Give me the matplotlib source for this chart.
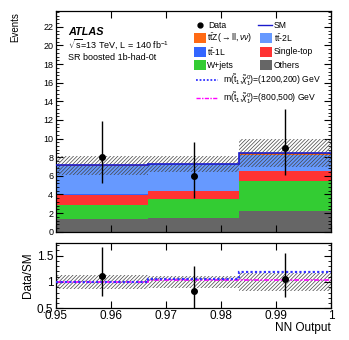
import numpy as np
import matplotlib
matplotlib.use("Agg")
import matplotlib.pyplot as plt
from matplotlib.patches import Rectangle
from matplotlib.lines import Line2D

plt.rcParams['font.family'] = ['Liberation Sans', 'DejaVu Sans']
plt.rcParams['mathtext.fontset'] = 'custom'
plt.rcParams['mathtext.rm'] = 'Liberation Sans'
plt.rcParams['mathtext.it'] = 'Liberation Sans:italic'
plt.rcParams['mathtext.bf'] = 'Liberation Sans:bold'
plt.rcParams['hatch.linewidth'] = 0.5

# ---------------- data ----------------
bin_edges = [0.95, 0.95 + 1/60, 0.95 + 2/60, 1.0]
others = [1.40, 1.48, 2.25]
wjets = [1.47, 2.00, 3.20]
single_top = [1.03, 0.85, 1.05]
tt_1l = [0.10, 0.05, 0.00]
tt_2l = [3.09, 2.90, 1.72]
ttz = [0.05, 0.02, 0.23]
sm_unc = [1.00, 0.88, 1.50]
data = [8, 6, 9]
data_err_lo = [2.77, 2.38, 2.94]
data_err_hi = [3.94, 3.58, 4.13]
sig_1200_200_ratio = [1.00, 1.05, 1.18]
sig_800_500_ratio = [1.00, 1.035, 1.03]
xtick_vals = [0.95, 0.96, 0.97, 0.98, 0.99, 1.0]
xtick_labels = ['0.95', '0.96', '0.97', '0.98', '0.99', '1']
ytick_main = [0, 2, 4, 6, 8, 10, 12, 14, 16, 18, 20, 22]
ytick_ratio = [0.5, 1.0, 1.5]
ytick_ratio_labels = ['0.5', '1', '1.5']

bkg_names = ['Others', 'W+jets', 'Single-top', r'$\mathrm{t\bar{t}}$-1L',
             r'$\mathrm{t\bar{t}}$-2L', r'$\mathrm{t\bar{t}Z}(\rightarrow \mathrm{ll},\nu\nu)$']
bkg_vals = [others, wjets, single_top, tt_1l, tt_2l, ttz]
bkg_colors = ['#666666', '#33cc33', '#ff3333', '#3366ff', '#6699ff', '#ff6a14']

# ---------------- figure ----------------
W, H = 349, 340
fig = plt.figure(figsize=(W/100, H/100), dpi=100)

def px(x0, y0, x1, y1):
    return [x0/W, 1 - y1/H, (x1-x0)/W, (y1-y0)/H]

ax = fig.add_axes(px(56, 11, 331, 231.7))
axr = fig.add_axes(px(56, 243, 331, 308.3))

edges = np.array(bin_edges)
centers = 0.5*(edges[:-1] + edges[1:])
widths = np.diff(edges)

bottom = np.zeros(3)
for vals, col in zip(bkg_vals, bkg_colors):
    v = np.array(vals)
    ax.bar(edges[:-1], v, width=widths, bottom=bottom, align='edge',
           color=col, linewidth=0, zorder=1)
    bottom = bottom + v
sm = bottom

unc = np.array(sm_unc)
ax.bar(edges[:-1], 2*unc, width=widths, bottom=sm-unc, align='edge',
       facecolor='none', edgecolor='#444444', hatch='/////////', linewidth=0, zorder=2)
ax.stairs(sm, edges, baseline=None, color='#1a1acc', linewidth=1.2, zorder=3)

ax.errorbar(centers, data, yerr=[data_err_lo, data_err_hi], fmt='o', color='black',
            markersize=4, elinewidth=1.0, capsize=0, zorder=5)

ax.set_xlim(0.95, 1.0)
ax.set_ylim(0, 23.7)
ax.set_yticks(ytick_main)
ax.set_yticks(np.arange(0, 23.7, 0.4), minor=True)
ax.set_xticks(xtick_vals)
ax.set_xticklabels([])
ax.tick_params(axis='both', which='both', direction='in', top=True, right=True)
ax.tick_params(axis='y', which='major', length=5, width=0.8, labelsize=6.5, pad=2)
ax.tick_params(axis='y', which='minor', length=2.5, width=0.6)
ax.tick_params(axis='x', which='major', length=5, width=0.8)

# ratio
ratio = np.array(data)/sm
r_lo = np.array(data_err_lo)/sm
r_hi = np.array(data_err_hi)/sm
rel = unc/sm
axr.bar(edges[:-1], 2*rel, width=widths, bottom=1-rel, align='edge',
        facecolor='none', edgecolor='#444444', hatch='/////////', linewidth=0, zorder=1)
axr.stairs(sig_1200_200_ratio, edges, baseline=None, color='#3333ff', linestyle=(0, (1, 1)),
           linewidth=1.6, zorder=3)
axr.stairs(sig_800_500_ratio, edges, baseline=None, color='#ff00ff', linestyle=(0, (3, 1, 1, 1)),
           linewidth=1.2, zorder=2)
axr.errorbar(centers, ratio, yerr=[r_lo, r_hi], fmt='o', color='black',
             markersize=4, elinewidth=1.0, capsize=0, zorder=5)
axr.set_xlim(0.95, 1.0)
axr.set_ylim(0.5, 1.74)
axr.set_xticks(xtick_vals)
axr.set_xticklabels(xtick_labels)
axr.set_yticks(ytick_ratio)
axr.set_yticklabels(ytick_ratio_labels)
axr.set_yticks(np.arange(0.5, 1.75, 0.1), minor=True)
axr.tick_params(axis='both', which='both', direction='in', top=True, right=True)
axr.tick_params(axis='both', which='major', length=5, width=0.8, labelsize=8.5)
axr.tick_params(axis='y', which='minor', length=2.5, width=0.6)
axr.tick_params(axis='y', which='major', pad=2)
axr.tick_params(axis='x', which='major', pad=1)

for a in (ax, axr):
    for s in a.spines.values():
        s.set_linewidth(0.9)

# axis labels
fig.text(15/W, 1 - 12/H, 'Events', rotation=90, ha='center', va='top', fontsize=7)
fig.text(28/W, 1 - 275/H, 'Data/SM', rotation=90, ha='center', va='center', fontsize=8.5)
fig.text(331/W, 1 - 328/H, 'NN Output', ha='right', va='center', fontsize=8.5)

# labels in plot
def axp(x, y):
    return ((x-56)/275, 1 - (y-11)/220.7)

ax.text(*axp(68, 32), 'ATLAS', transform=ax.transAxes, fontsize=7.8,
        fontweight='bold', fontstyle='italic', va='center', ha='left')
ax.text(*axp(68, 44), r'$\sqrt{\mathrm{s}}$=13 TeV, L = 140 fb$^{-1}$', transform=ax.transAxes,
        fontsize=6.5, va='center', ha='left')
ax.text(*axp(68, 57), 'SR boosted 1b-had-0t', transform=ax.transAxes,
        fontsize=6.5, va='center', ha='left')

# legend (manual)
lfs = 6.2
rows_y = [25, 38.3, 51.7, 65]
ax.plot(*axp(200, rows_y[0]), 'o', color='black', markersize=3.5, transform=ax.transAxes, clip_on=False)
ax.text(*axp(208, rows_y[0]), 'Data', transform=ax.transAxes, fontsize=lfs, va='center')
ax.add_line(Line2D([axp(258, 0)[0], axp(272, 0)[0]], [axp(0, rows_y[0])[1]]*2,
                   color='#1a1acc', lw=1.0, transform=ax.transAxes))
ax.text(*axp(274, rows_y[0]), 'SM', transform=ax.transAxes, fontsize=lfs, va='center')

leg_items = [(5, 0, 1), (4, 1, 1), (3, 0, 2), (2, 1, 2), (1, 0, 3), (0, 1, 3)]
for idx, colm, row in leg_items:
    bx = 194 if colm == 0 else 260
    tx = 207 if colm == 0 else 274
    y = rows_y[row]
    x0, y0 = axp(bx, y + 5)
    x1, y1 = axp(bx + 12, y - 5)
    ax.add_patch(Rectangle((x0, y0), x1 - x0, y1 - y0, facecolor=bkg_colors[idx],
                           edgecolor='none', transform=ax.transAxes))
    ax.text(*axp(tx, y), bkg_names[idx], transform=ax.transAxes, fontsize=lfs, va='center')

sig_labels = [r'm($\tilde{\mathrm{t}}_1$,$\tilde{\chi}^0_1$)=(1200,200) GeV',
              r'm($\tilde{\mathrm{t}}_1$,$\tilde{\chi}^0_1$)=(800,500) GeV']
sig_styles = [dict(color='#3333ff', linestyle=(0, (1, 1)), lw=1.3),
              dict(color='#ff00ff', linestyle=(0, (3, 1, 1, 1)), lw=1.0)]
for y, lab, st in zip([80, 98.3], sig_labels, sig_styles):
    ax.add_line(Line2D([axp(196, 0)[0], axp(218, 0)[0]], [axp(0, y)[1]]*2,
                       transform=ax.transAxes, **st))
    ax.text(*axp(223, y), lab, transform=ax.transAxes, fontsize=lfs, va='center')

fig.savefig('out.png', dpi=100)
